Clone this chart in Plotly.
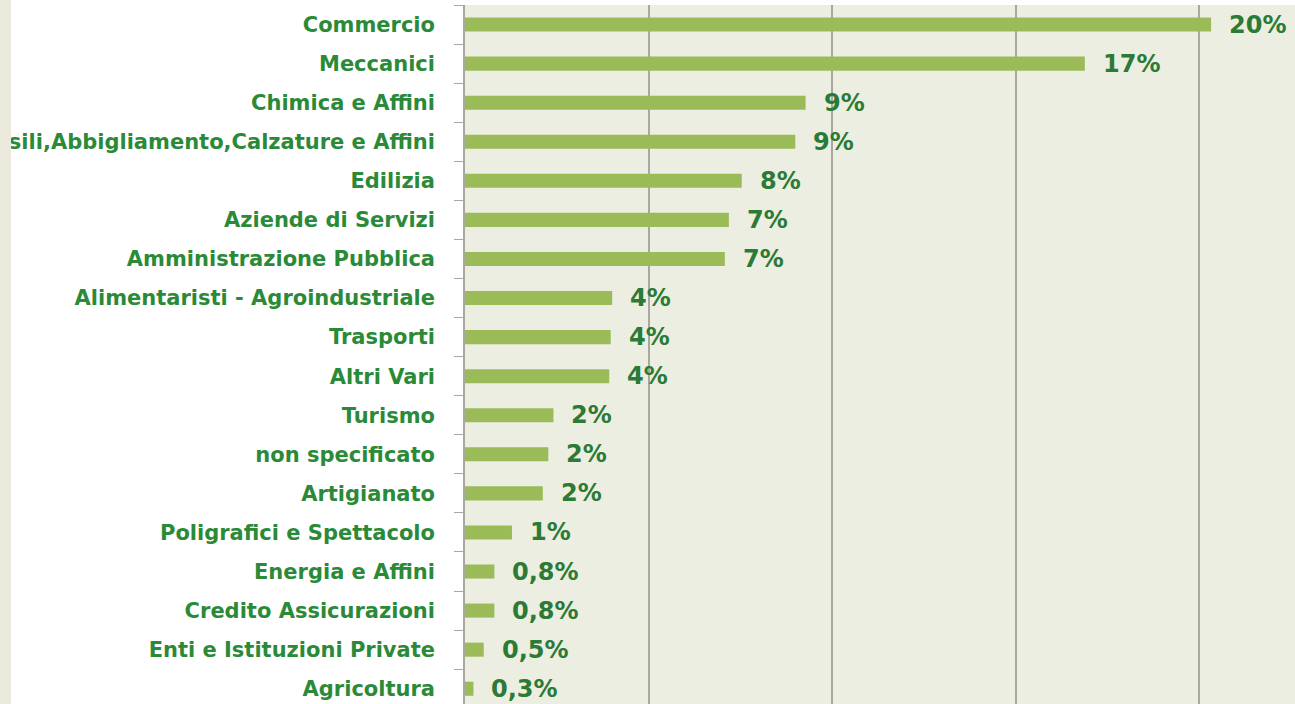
import plotly.graph_objects as go

categories = [
    "Commercio", "Meccanici", "Chimica e Affini",
    "Tessili,Abbigliamento,Calzature e Affini", "Edilizia",
    "Aziende di Servizi", "Amministrazione Pubblica",
    "Alimentaristi - Agroindustriale", "Trasporti", "Altri Vari",
    "Turismo", "non specificato", "Artigianato",
    "Poligrafici e Spettacolo", "Energia e Affini",
    "Credito Assicurazioni", "Enti e Istituzioni Private", "Agricoltura",
]
values = [20.33, 16.89, 9.28, 9.0, 7.54, 7.19, 7.08, 4.01, 3.97, 3.93,
          2.41, 2.27, 2.12, 1.28, 0.80, 0.80, 0.51, 0.23]
value_labels = ["20%", "17%", "9%", "9%", "8%", "7%", "7%", "4%", "4%", "4%",
                "2%", "2%", "2%", "1%", "0,8%", "0,8%", "0,5%", "0,3%"]
grid_vals = [5, 10, 15, 20]

W, H = 1295, 704
ML, MT = 465, 5
PW, PH = W - ML, H - MT
BAND = 39.07
PX_PER_UNIT = 36.7

fig = go.Figure(go.Bar(
    x=values, y=categories, orientation="h",
    marker=dict(color="#9bbb59", line=dict(width=0)),
    hoverinfo="skip",
))

for v, c, t in zip(values, categories, value_labels):
    fig.add_annotation(x=v, y=c, text=t, showarrow=False, xanchor="left",
                       yanchor="middle", xshift=16,
                       font=dict(family="DejaVu Sans", size=24, color="#2b7a35",
                                 weight="bold"))

# left beige strip
fig.add_shape(type="rect", xref="paper", yref="paper",
              x0=-ML / PW, x1=(11 - ML) / PW, y0=-0.05, y1=1.05,
              fillcolor="#ece9dd", line=dict(width=0), layer="above")

fig.update_layout(
    width=W, height=H,
    margin=dict(l=ML, r=0, t=MT, b=0, pad=0),
    paper_bgcolor="#ffffff",
    plot_bgcolor="#eceee1",
    bargap=0.64,
    showlegend=False,
    xaxis=dict(range=[0, PW / PX_PER_UNIT], tickvals=grid_vals,
               showticklabels=False,
               showgrid=True, gridcolor="#a8a8a0", gridwidth=1.6,
               zeroline=False, showline=False, fixedrange=True),
    yaxis=dict(categoryorder="array", categoryarray=categories,
               range=[-0.5 + PH / BAND, -0.5],
               showline=True, linecolor="#a8a8a0", linewidth=1.6,
               ticks="outside", tickson="boundaries", ticklen=9,
               tickcolor="#a8a8a0", tickwidth=1.3,
               ticklabelstandoff=24,
               tickfont=dict(family="DejaVu Sans", size=21, color="#2b8a38",
                             weight="bold"),
               showgrid=False, zeroline=False, automargin=False,
               fixedrange=True),
)

fig.write_html(
    "out.html",
    config={"displayModeBar": False},
    post_script="document.body.style.margin='0px';"
                "document.body.style.overflow='hidden';",
)
